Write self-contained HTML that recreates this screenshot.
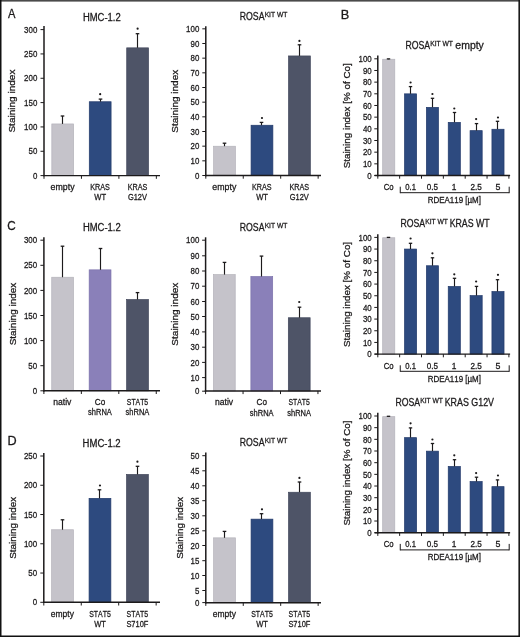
<!DOCTYPE html>
<html><head><meta charset="utf-8"><style>
html,body{margin:0;padding:0;background:#fff;}
svg{display:block;will-change:transform;}
text{font-family:"Liberation Sans",sans-serif;font-kerning:none;stroke:#1c1a1b;stroke-width:0.28px;}
</style></head><body>
<svg width="520" height="637" viewBox="0 0 520 637">
<rect x="0.00" y="0.00" width="520.00" height="637.00" fill="#ffffff"/>
<text x="7.98" y="18.30" font-size="12.0" text-anchor="start" textLength="7.44" lengthAdjust="spacingAndGlyphs" fill="#1c1a1b">A</text>
<text x="340.65" y="18.60" font-size="12.0" text-anchor="start" textLength="8.52" lengthAdjust="spacingAndGlyphs" fill="#1c1a1b">B</text>
<text x="7.21" y="229.80" font-size="12.0" text-anchor="start" textLength="8.44" lengthAdjust="spacingAndGlyphs" fill="#1c1a1b">C</text>
<text x="7.46" y="445.00" font-size="12.0" text-anchor="start" textLength="9.14" lengthAdjust="spacingAndGlyphs" fill="#1c1a1b">D</text>
<text x="82.93" y="20.70" font-size="10.0" text-anchor="start" textLength="37.75" lengthAdjust="spacingAndGlyphs" fill="#1c1a1b">HMC-1.2</text>
<text x="0" y="0" font-size="9.8" textLength="62.96" lengthAdjust="spacingAndGlyphs" fill="#1c1a1b" transform="translate(15.47,132.56) rotate(-90)">Staining index</text>
<line x1="44.00" y1="26.00" x2="44.00" y2="176.30" stroke="#1c1a1b" stroke-width="1.5"/>
<line x1="40.50" y1="175.60" x2="44.00" y2="175.60" stroke="#1c1a1b" stroke-width="1.0"/>
<text x="37.30" y="178.76" font-size="9.2" text-anchor="end" textLength="4.40" lengthAdjust="spacingAndGlyphs" fill="#1c1a1b">0</text>
<line x1="40.50" y1="151.27" x2="44.00" y2="151.27" stroke="#1c1a1b" stroke-width="1.0"/>
<text x="37.30" y="154.43" font-size="9.2" text-anchor="end" textLength="8.80" lengthAdjust="spacingAndGlyphs" fill="#1c1a1b">50</text>
<line x1="40.50" y1="126.93" x2="44.00" y2="126.93" stroke="#1c1a1b" stroke-width="1.0"/>
<text x="37.30" y="130.10" font-size="9.2" text-anchor="end" textLength="13.20" lengthAdjust="spacingAndGlyphs" fill="#1c1a1b">100</text>
<line x1="40.50" y1="102.60" x2="44.00" y2="102.60" stroke="#1c1a1b" stroke-width="1.0"/>
<text x="37.30" y="105.76" font-size="9.2" text-anchor="end" textLength="13.20" lengthAdjust="spacingAndGlyphs" fill="#1c1a1b">150</text>
<line x1="40.50" y1="78.27" x2="44.00" y2="78.27" stroke="#1c1a1b" stroke-width="1.0"/>
<text x="37.30" y="81.43" font-size="9.2" text-anchor="end" textLength="13.20" lengthAdjust="spacingAndGlyphs" fill="#1c1a1b">200</text>
<line x1="40.50" y1="53.93" x2="44.00" y2="53.93" stroke="#1c1a1b" stroke-width="1.0"/>
<text x="37.30" y="57.10" font-size="9.2" text-anchor="end" textLength="13.20" lengthAdjust="spacingAndGlyphs" fill="#1c1a1b">250</text>
<line x1="40.50" y1="29.60" x2="44.00" y2="29.60" stroke="#1c1a1b" stroke-width="1.0"/>
<text x="37.30" y="32.76" font-size="9.2" text-anchor="end" textLength="13.20" lengthAdjust="spacingAndGlyphs" fill="#1c1a1b">300</text>
<rect x="51.83" y="123.95" width="21.80" height="51.65" fill="#c5c3ca" stroke="#b4b2ba" stroke-width="0.7"/>
<line x1="62.50" y1="116.00" x2="62.50" y2="123.90" stroke="#1c1a1b" stroke-width="1.15"/>
<line x1="60.70" y1="116.00" x2="64.30" y2="116.00" stroke="#1c1a1b" stroke-width="1.3"/>
<text x="50.55" y="189.80" font-size="9.0" text-anchor="start" textLength="23.99" lengthAdjust="spacingAndGlyphs" fill="#1c1a1b">empty</text>
<rect x="89.28" y="101.75" width="21.80" height="73.85" fill="#2d4a7f" stroke="#22396a" stroke-width="0.7"/>
<line x1="100.50" y1="99.10" x2="100.50" y2="101.70" stroke="#1c1a1b" stroke-width="1.15"/>
<line x1="98.70" y1="99.10" x2="102.30" y2="99.10" stroke="#1c1a1b" stroke-width="1.3"/>
<circle cx="100.18" cy="94.20" r="1.1" fill="#1c1a1b"/>
<text x="90.23" y="189.80" font-size="9.0" text-anchor="start" textLength="19.62" lengthAdjust="spacingAndGlyphs" fill="#1c1a1b">KRAS</text>
<text x="94.34" y="200.20" font-size="9.0" text-anchor="start" textLength="11.81" lengthAdjust="spacingAndGlyphs" fill="#1c1a1b">WT</text>
<rect x="126.72" y="47.85" width="21.80" height="127.75" fill="#4e5467" stroke="#40465a" stroke-width="0.7"/>
<line x1="137.50" y1="33.70" x2="137.50" y2="47.80" stroke="#1c1a1b" stroke-width="1.15"/>
<line x1="135.70" y1="33.70" x2="139.30" y2="33.70" stroke="#1c1a1b" stroke-width="1.3"/>
<circle cx="137.62" cy="28.70" r="1.1" fill="#1c1a1b"/>
<text x="127.68" y="189.80" font-size="9.0" text-anchor="start" textLength="19.62" lengthAdjust="spacingAndGlyphs" fill="#1c1a1b">KRAS</text>
<text x="127.90" y="200.20" font-size="9.0" text-anchor="start" textLength="19.11" lengthAdjust="spacingAndGlyphs" fill="#1c1a1b">G12V</text>
<line x1="43.20" y1="175.60" x2="160.00" y2="175.60" stroke="#1c1a1b" stroke-width="1.45"/>
<line x1="44.00" y1="175.60" x2="44.00" y2="178.80" stroke="#1c1a1b" stroke-width="1.0"/>
<line x1="81.45" y1="175.60" x2="81.45" y2="178.80" stroke="#1c1a1b" stroke-width="1.0"/>
<line x1="118.90" y1="175.60" x2="118.90" y2="178.80" stroke="#1c1a1b" stroke-width="1.0"/>
<line x1="156.35" y1="175.60" x2="156.35" y2="178.80" stroke="#1c1a1b" stroke-width="1.0"/>
<text x="239.78" y="19.90" font-size="10.0" text-anchor="start" textLength="24.73" lengthAdjust="spacingAndGlyphs" fill="#1c1a1b">ROSA</text>
<text x="264.65" y="16.70" font-size="7.4" text-anchor="start" textLength="22.70" lengthAdjust="spacingAndGlyphs" fill="#1c1a1b">KIT WT</text>
<text x="0" y="0" font-size="9.8" textLength="62.86" lengthAdjust="spacingAndGlyphs" fill="#1c1a1b" transform="translate(177.77,132.65) rotate(-90)">Staining index</text>
<line x1="205.80" y1="26.20" x2="205.80" y2="176.20" stroke="#1c1a1b" stroke-width="1.5"/>
<line x1="202.30" y1="175.50" x2="205.80" y2="175.50" stroke="#1c1a1b" stroke-width="1.0"/>
<text x="199.30" y="178.66" font-size="9.2" text-anchor="end" textLength="4.40" lengthAdjust="spacingAndGlyphs" fill="#1c1a1b">0</text>
<line x1="202.30" y1="160.83" x2="205.80" y2="160.83" stroke="#1c1a1b" stroke-width="1.0"/>
<text x="199.30" y="164.00" font-size="9.2" text-anchor="end" textLength="8.80" lengthAdjust="spacingAndGlyphs" fill="#1c1a1b">10</text>
<line x1="202.30" y1="146.17" x2="205.80" y2="146.17" stroke="#1c1a1b" stroke-width="1.0"/>
<text x="199.30" y="149.33" font-size="9.2" text-anchor="end" textLength="8.80" lengthAdjust="spacingAndGlyphs" fill="#1c1a1b">20</text>
<line x1="202.30" y1="131.50" x2="205.80" y2="131.50" stroke="#1c1a1b" stroke-width="1.0"/>
<text x="199.30" y="134.66" font-size="9.2" text-anchor="end" textLength="8.80" lengthAdjust="spacingAndGlyphs" fill="#1c1a1b">30</text>
<line x1="202.30" y1="116.83" x2="205.80" y2="116.83" stroke="#1c1a1b" stroke-width="1.0"/>
<text x="199.30" y="120.00" font-size="9.2" text-anchor="end" textLength="8.80" lengthAdjust="spacingAndGlyphs" fill="#1c1a1b">40</text>
<line x1="202.30" y1="102.17" x2="205.80" y2="102.17" stroke="#1c1a1b" stroke-width="1.0"/>
<text x="199.30" y="105.33" font-size="9.2" text-anchor="end" textLength="8.80" lengthAdjust="spacingAndGlyphs" fill="#1c1a1b">50</text>
<line x1="202.30" y1="87.50" x2="205.80" y2="87.50" stroke="#1c1a1b" stroke-width="1.0"/>
<text x="199.30" y="90.66" font-size="9.2" text-anchor="end" textLength="8.80" lengthAdjust="spacingAndGlyphs" fill="#1c1a1b">60</text>
<line x1="202.30" y1="72.83" x2="205.80" y2="72.83" stroke="#1c1a1b" stroke-width="1.0"/>
<text x="199.30" y="76.00" font-size="9.2" text-anchor="end" textLength="8.80" lengthAdjust="spacingAndGlyphs" fill="#1c1a1b">70</text>
<line x1="202.30" y1="58.16" x2="205.80" y2="58.16" stroke="#1c1a1b" stroke-width="1.0"/>
<text x="199.30" y="61.33" font-size="9.2" text-anchor="end" textLength="8.80" lengthAdjust="spacingAndGlyphs" fill="#1c1a1b">80</text>
<line x1="202.30" y1="43.50" x2="205.80" y2="43.50" stroke="#1c1a1b" stroke-width="1.0"/>
<text x="199.30" y="46.66" font-size="9.2" text-anchor="end" textLength="8.80" lengthAdjust="spacingAndGlyphs" fill="#1c1a1b">90</text>
<line x1="202.30" y1="28.83" x2="205.80" y2="28.83" stroke="#1c1a1b" stroke-width="1.0"/>
<text x="199.30" y="31.99" font-size="9.2" text-anchor="end" textLength="13.20" lengthAdjust="spacingAndGlyphs" fill="#1c1a1b">100</text>
<rect x="213.62" y="146.25" width="21.80" height="29.25" fill="#c5c3ca" stroke="#b4b2ba" stroke-width="0.7"/>
<line x1="224.50" y1="143.20" x2="224.50" y2="146.20" stroke="#1c1a1b" stroke-width="1.15"/>
<line x1="222.70" y1="143.20" x2="226.30" y2="143.20" stroke="#1c1a1b" stroke-width="1.3"/>
<text x="212.35" y="189.70" font-size="9.0" text-anchor="start" textLength="23.99" lengthAdjust="spacingAndGlyphs" fill="#1c1a1b">empty</text>
<rect x="251.08" y="125.25" width="21.80" height="50.25" fill="#2d4a7f" stroke="#22396a" stroke-width="0.7"/>
<line x1="261.50" y1="122.40" x2="261.50" y2="125.20" stroke="#1c1a1b" stroke-width="1.15"/>
<line x1="259.70" y1="122.40" x2="263.30" y2="122.40" stroke="#1c1a1b" stroke-width="1.3"/>
<circle cx="261.98" cy="118.00" r="1.1" fill="#1c1a1b"/>
<text x="252.03" y="189.70" font-size="9.0" text-anchor="start" textLength="19.62" lengthAdjust="spacingAndGlyphs" fill="#1c1a1b">KRAS</text>
<text x="256.14" y="200.10" font-size="9.0" text-anchor="start" textLength="11.81" lengthAdjust="spacingAndGlyphs" fill="#1c1a1b">WT</text>
<rect x="288.53" y="55.95" width="21.80" height="119.55" fill="#4e5467" stroke="#40465a" stroke-width="0.7"/>
<line x1="299.50" y1="44.80" x2="299.50" y2="55.90" stroke="#1c1a1b" stroke-width="1.15"/>
<line x1="297.70" y1="44.80" x2="301.30" y2="44.80" stroke="#1c1a1b" stroke-width="1.3"/>
<circle cx="299.43" cy="40.90" r="1.1" fill="#1c1a1b"/>
<text x="289.48" y="189.70" font-size="9.0" text-anchor="start" textLength="19.62" lengthAdjust="spacingAndGlyphs" fill="#1c1a1b">KRAS</text>
<text x="289.70" y="200.10" font-size="9.0" text-anchor="start" textLength="19.11" lengthAdjust="spacingAndGlyphs" fill="#1c1a1b">G12V</text>
<line x1="205.00" y1="175.50" x2="321.00" y2="175.50" stroke="#1c1a1b" stroke-width="1.45"/>
<line x1="205.80" y1="175.50" x2="205.80" y2="178.70" stroke="#1c1a1b" stroke-width="1.0"/>
<line x1="243.25" y1="175.50" x2="243.25" y2="178.70" stroke="#1c1a1b" stroke-width="1.0"/>
<line x1="280.70" y1="175.50" x2="280.70" y2="178.70" stroke="#1c1a1b" stroke-width="1.0"/>
<line x1="318.15" y1="175.50" x2="318.15" y2="178.70" stroke="#1c1a1b" stroke-width="1.0"/>
<line x1="377.80" y1="55.60" x2="377.80" y2="176.20" stroke="#1c1a1b" stroke-width="1.5"/>
<line x1="374.30" y1="175.50" x2="377.80" y2="175.50" stroke="#1c1a1b" stroke-width="1.0"/>
<text x="371.70" y="178.66" font-size="9.2" text-anchor="end" textLength="4.40" lengthAdjust="spacingAndGlyphs" fill="#1c1a1b">0</text>
<line x1="374.30" y1="163.83" x2="377.80" y2="163.83" stroke="#1c1a1b" stroke-width="1.0"/>
<text x="371.70" y="166.99" font-size="9.2" text-anchor="end" textLength="8.80" lengthAdjust="spacingAndGlyphs" fill="#1c1a1b">10</text>
<line x1="374.30" y1="152.16" x2="377.80" y2="152.16" stroke="#1c1a1b" stroke-width="1.0"/>
<text x="371.70" y="155.32" font-size="9.2" text-anchor="end" textLength="8.80" lengthAdjust="spacingAndGlyphs" fill="#1c1a1b">20</text>
<line x1="374.30" y1="140.49" x2="377.80" y2="140.49" stroke="#1c1a1b" stroke-width="1.0"/>
<text x="371.70" y="143.65" font-size="9.2" text-anchor="end" textLength="8.80" lengthAdjust="spacingAndGlyphs" fill="#1c1a1b">30</text>
<line x1="374.30" y1="128.82" x2="377.80" y2="128.82" stroke="#1c1a1b" stroke-width="1.0"/>
<text x="371.70" y="131.98" font-size="9.2" text-anchor="end" textLength="8.80" lengthAdjust="spacingAndGlyphs" fill="#1c1a1b">40</text>
<line x1="374.30" y1="117.15" x2="377.80" y2="117.15" stroke="#1c1a1b" stroke-width="1.0"/>
<text x="371.70" y="120.31" font-size="9.2" text-anchor="end" textLength="8.80" lengthAdjust="spacingAndGlyphs" fill="#1c1a1b">50</text>
<line x1="374.30" y1="105.48" x2="377.80" y2="105.48" stroke="#1c1a1b" stroke-width="1.0"/>
<text x="371.70" y="108.64" font-size="9.2" text-anchor="end" textLength="8.80" lengthAdjust="spacingAndGlyphs" fill="#1c1a1b">60</text>
<line x1="374.30" y1="93.81" x2="377.80" y2="93.81" stroke="#1c1a1b" stroke-width="1.0"/>
<text x="371.70" y="96.97" font-size="9.2" text-anchor="end" textLength="8.80" lengthAdjust="spacingAndGlyphs" fill="#1c1a1b">70</text>
<line x1="374.30" y1="82.14" x2="377.80" y2="82.14" stroke="#1c1a1b" stroke-width="1.0"/>
<text x="371.70" y="85.30" font-size="9.2" text-anchor="end" textLength="8.80" lengthAdjust="spacingAndGlyphs" fill="#1c1a1b">80</text>
<line x1="374.30" y1="70.47" x2="377.80" y2="70.47" stroke="#1c1a1b" stroke-width="1.0"/>
<text x="371.70" y="73.63" font-size="9.2" text-anchor="end" textLength="8.80" lengthAdjust="spacingAndGlyphs" fill="#1c1a1b">90</text>
<line x1="374.30" y1="58.80" x2="377.80" y2="58.80" stroke="#1c1a1b" stroke-width="1.0"/>
<text x="371.70" y="61.96" font-size="9.2" text-anchor="end" textLength="13.20" lengthAdjust="spacingAndGlyphs" fill="#1c1a1b">100</text>
<rect x="382.68" y="59.25" width="12.10" height="116.25" fill="#c5c3ca" stroke="#b4b2ba" stroke-width="0.7"/>
<line x1="388.50" y1="58.90" x2="388.50" y2="59.20" stroke="#1c1a1b" stroke-width="1.15"/>
<line x1="386.80" y1="58.90" x2="390.20" y2="58.90" stroke="#1c1a1b" stroke-width="1.3"/>
<rect x="404.53" y="93.85" width="12.10" height="81.65" fill="#2d4a7f" stroke="#22396a" stroke-width="0.7"/>
<line x1="410.50" y1="86.60" x2="410.50" y2="93.80" stroke="#1c1a1b" stroke-width="1.15"/>
<line x1="408.80" y1="86.60" x2="412.20" y2="86.60" stroke="#1c1a1b" stroke-width="1.3"/>
<circle cx="410.58" cy="82.50" r="1.1" fill="#1c1a1b"/>
<rect x="426.38" y="107.35" width="12.10" height="68.15" fill="#2d4a7f" stroke="#22396a" stroke-width="0.7"/>
<line x1="432.50" y1="98.30" x2="432.50" y2="107.30" stroke="#1c1a1b" stroke-width="1.15"/>
<line x1="430.80" y1="98.30" x2="434.20" y2="98.30" stroke="#1c1a1b" stroke-width="1.3"/>
<circle cx="432.43" cy="94.00" r="1.1" fill="#1c1a1b"/>
<rect x="448.23" y="122.35" width="12.10" height="53.15" fill="#2d4a7f" stroke="#22396a" stroke-width="0.7"/>
<line x1="454.50" y1="112.50" x2="454.50" y2="122.30" stroke="#1c1a1b" stroke-width="1.15"/>
<line x1="452.80" y1="112.50" x2="456.20" y2="112.50" stroke="#1c1a1b" stroke-width="1.3"/>
<circle cx="454.28" cy="108.50" r="1.1" fill="#1c1a1b"/>
<rect x="470.08" y="130.65" width="12.10" height="44.85" fill="#2d4a7f" stroke="#22396a" stroke-width="0.7"/>
<line x1="476.50" y1="123.60" x2="476.50" y2="130.60" stroke="#1c1a1b" stroke-width="1.15"/>
<line x1="474.80" y1="123.60" x2="478.20" y2="123.60" stroke="#1c1a1b" stroke-width="1.3"/>
<circle cx="476.12" cy="119.10" r="1.1" fill="#1c1a1b"/>
<rect x="491.93" y="129.25" width="12.10" height="46.25" fill="#2d4a7f" stroke="#22396a" stroke-width="0.7"/>
<line x1="497.50" y1="121.30" x2="497.50" y2="129.20" stroke="#1c1a1b" stroke-width="1.15"/>
<line x1="495.80" y1="121.30" x2="499.20" y2="121.30" stroke="#1c1a1b" stroke-width="1.3"/>
<circle cx="497.98" cy="117.50" r="1.1" fill="#1c1a1b"/>
<line x1="374.60" y1="175.50" x2="510.10" y2="175.50" stroke="#1c1a1b" stroke-width="1.45"/>
<line x1="377.80" y1="175.50" x2="377.80" y2="178.70" stroke="#1c1a1b" stroke-width="1.0"/>
<line x1="399.65" y1="175.50" x2="399.65" y2="178.70" stroke="#1c1a1b" stroke-width="1.0"/>
<line x1="421.50" y1="175.50" x2="421.50" y2="178.70" stroke="#1c1a1b" stroke-width="1.0"/>
<line x1="443.35" y1="175.50" x2="443.35" y2="178.70" stroke="#1c1a1b" stroke-width="1.0"/>
<line x1="465.20" y1="175.50" x2="465.20" y2="178.70" stroke="#1c1a1b" stroke-width="1.0"/>
<line x1="487.05" y1="175.50" x2="487.05" y2="178.70" stroke="#1c1a1b" stroke-width="1.0"/>
<line x1="508.90" y1="175.50" x2="508.90" y2="178.70" stroke="#1c1a1b" stroke-width="1.0"/>
<text x="383.73" y="190.10" font-size="8.8" text-anchor="start" textLength="9.92" lengthAdjust="spacingAndGlyphs" fill="#1c1a1b">Co</text>
<text x="405.28" y="190.10" font-size="8.8" text-anchor="start" textLength="10.67" lengthAdjust="spacingAndGlyphs" fill="#1c1a1b">0.1</text>
<text x="426.81" y="190.10" font-size="8.8" text-anchor="start" textLength="11.26" lengthAdjust="spacingAndGlyphs" fill="#1c1a1b">0.5</text>
<text x="451.84" y="190.10" font-size="8.8" text-anchor="start" textLength="4.64" lengthAdjust="spacingAndGlyphs" fill="#1c1a1b">1</text>
<text x="470.41" y="190.10" font-size="8.8" text-anchor="start" textLength="11.35" lengthAdjust="spacingAndGlyphs" fill="#1c1a1b">2.5</text>
<text x="495.52" y="190.10" font-size="8.8" text-anchor="start" textLength="4.93" lengthAdjust="spacingAndGlyphs" fill="#1c1a1b">5</text>
<line x1="400.25" y1="186.70" x2="400.25" y2="193.20" stroke="#1c1a1b" stroke-width="1.0"/>
<line x1="509.20" y1="186.70" x2="509.20" y2="193.20" stroke="#1c1a1b" stroke-width="1.0"/>
<line x1="400.25" y1="192.70" x2="509.20" y2="192.70" stroke="#1c1a1b" stroke-width="1.0"/>
<text x="427.75" y="203.10" font-size="8.8" text-anchor="start" textLength="53.22" lengthAdjust="spacingAndGlyphs" fill="#1c1a1b">RDEA119 [µM]</text>
<text x="0" y="0" font-size="9.8" textLength="105.05" lengthAdjust="spacingAndGlyphs" fill="#1c1a1b" transform="translate(349.57,168.35) rotate(-90)">Staining index [% of Co]</text>
<text x="405.38" y="49.40" font-size="10.0" text-anchor="start" textLength="24.73" lengthAdjust="spacingAndGlyphs" fill="#1c1a1b">ROSA</text>
<text x="430.25" y="46.20" font-size="7.4" text-anchor="start" textLength="22.70" lengthAdjust="spacingAndGlyphs" fill="#1c1a1b">KIT WT</text>
<text x="455.36" y="49.40" font-size="10.0" text-anchor="start" textLength="28.46" lengthAdjust="spacingAndGlyphs" fill="#1c1a1b">empty</text>
<line x1="377.80" y1="234.20" x2="377.80" y2="354.80" stroke="#1c1a1b" stroke-width="1.5"/>
<line x1="374.30" y1="354.10" x2="377.80" y2="354.10" stroke="#1c1a1b" stroke-width="1.0"/>
<text x="371.70" y="357.26" font-size="9.2" text-anchor="end" textLength="4.40" lengthAdjust="spacingAndGlyphs" fill="#1c1a1b">0</text>
<line x1="374.30" y1="342.43" x2="377.80" y2="342.43" stroke="#1c1a1b" stroke-width="1.0"/>
<text x="371.70" y="345.59" font-size="9.2" text-anchor="end" textLength="8.80" lengthAdjust="spacingAndGlyphs" fill="#1c1a1b">10</text>
<line x1="374.30" y1="330.76" x2="377.80" y2="330.76" stroke="#1c1a1b" stroke-width="1.0"/>
<text x="371.70" y="333.92" font-size="9.2" text-anchor="end" textLength="8.80" lengthAdjust="spacingAndGlyphs" fill="#1c1a1b">20</text>
<line x1="374.30" y1="319.09" x2="377.80" y2="319.09" stroke="#1c1a1b" stroke-width="1.0"/>
<text x="371.70" y="322.25" font-size="9.2" text-anchor="end" textLength="8.80" lengthAdjust="spacingAndGlyphs" fill="#1c1a1b">30</text>
<line x1="374.30" y1="307.42" x2="377.80" y2="307.42" stroke="#1c1a1b" stroke-width="1.0"/>
<text x="371.70" y="310.58" font-size="9.2" text-anchor="end" textLength="8.80" lengthAdjust="spacingAndGlyphs" fill="#1c1a1b">40</text>
<line x1="374.30" y1="295.75" x2="377.80" y2="295.75" stroke="#1c1a1b" stroke-width="1.0"/>
<text x="371.70" y="298.91" font-size="9.2" text-anchor="end" textLength="8.80" lengthAdjust="spacingAndGlyphs" fill="#1c1a1b">50</text>
<line x1="374.30" y1="284.08" x2="377.80" y2="284.08" stroke="#1c1a1b" stroke-width="1.0"/>
<text x="371.70" y="287.24" font-size="9.2" text-anchor="end" textLength="8.80" lengthAdjust="spacingAndGlyphs" fill="#1c1a1b">60</text>
<line x1="374.30" y1="272.41" x2="377.80" y2="272.41" stroke="#1c1a1b" stroke-width="1.0"/>
<text x="371.70" y="275.57" font-size="9.2" text-anchor="end" textLength="8.80" lengthAdjust="spacingAndGlyphs" fill="#1c1a1b">70</text>
<line x1="374.30" y1="260.74" x2="377.80" y2="260.74" stroke="#1c1a1b" stroke-width="1.0"/>
<text x="371.70" y="263.90" font-size="9.2" text-anchor="end" textLength="8.80" lengthAdjust="spacingAndGlyphs" fill="#1c1a1b">80</text>
<line x1="374.30" y1="249.07" x2="377.80" y2="249.07" stroke="#1c1a1b" stroke-width="1.0"/>
<text x="371.70" y="252.23" font-size="9.2" text-anchor="end" textLength="8.80" lengthAdjust="spacingAndGlyphs" fill="#1c1a1b">90</text>
<line x1="374.30" y1="237.40" x2="377.80" y2="237.40" stroke="#1c1a1b" stroke-width="1.0"/>
<text x="371.70" y="240.56" font-size="9.2" text-anchor="end" textLength="13.20" lengthAdjust="spacingAndGlyphs" fill="#1c1a1b">100</text>
<rect x="382.68" y="237.75" width="12.10" height="116.35" fill="#c5c3ca" stroke="#b4b2ba" stroke-width="0.7"/>
<line x1="388.50" y1="237.40" x2="388.50" y2="237.70" stroke="#1c1a1b" stroke-width="1.15"/>
<line x1="386.80" y1="237.40" x2="390.20" y2="237.40" stroke="#1c1a1b" stroke-width="1.3"/>
<rect x="404.53" y="249.05" width="12.10" height="105.05" fill="#2d4a7f" stroke="#22396a" stroke-width="0.7"/>
<line x1="410.50" y1="243.30" x2="410.50" y2="249.00" stroke="#1c1a1b" stroke-width="1.15"/>
<line x1="408.80" y1="243.30" x2="412.20" y2="243.30" stroke="#1c1a1b" stroke-width="1.3"/>
<circle cx="410.58" cy="238.50" r="1.1" fill="#1c1a1b"/>
<rect x="426.38" y="265.75" width="12.10" height="88.35" fill="#2d4a7f" stroke="#22396a" stroke-width="0.7"/>
<line x1="432.50" y1="257.80" x2="432.50" y2="265.70" stroke="#1c1a1b" stroke-width="1.15"/>
<line x1="430.80" y1="257.80" x2="434.20" y2="257.80" stroke="#1c1a1b" stroke-width="1.3"/>
<circle cx="432.43" cy="253.30" r="1.1" fill="#1c1a1b"/>
<rect x="448.23" y="286.45" width="12.10" height="67.65" fill="#2d4a7f" stroke="#22396a" stroke-width="0.7"/>
<line x1="454.50" y1="278.30" x2="454.50" y2="286.40" stroke="#1c1a1b" stroke-width="1.15"/>
<line x1="452.80" y1="278.30" x2="456.20" y2="278.30" stroke="#1c1a1b" stroke-width="1.3"/>
<circle cx="454.28" cy="274.30" r="1.1" fill="#1c1a1b"/>
<rect x="470.08" y="295.65" width="12.10" height="58.45" fill="#2d4a7f" stroke="#22396a" stroke-width="0.7"/>
<line x1="476.50" y1="286.40" x2="476.50" y2="295.60" stroke="#1c1a1b" stroke-width="1.15"/>
<line x1="474.80" y1="286.40" x2="478.20" y2="286.40" stroke="#1c1a1b" stroke-width="1.3"/>
<circle cx="476.12" cy="281.50" r="1.1" fill="#1c1a1b"/>
<rect x="491.93" y="291.55" width="12.10" height="62.55" fill="#2d4a7f" stroke="#22396a" stroke-width="0.7"/>
<line x1="497.50" y1="279.70" x2="497.50" y2="291.50" stroke="#1c1a1b" stroke-width="1.15"/>
<line x1="495.80" y1="279.70" x2="499.20" y2="279.70" stroke="#1c1a1b" stroke-width="1.3"/>
<circle cx="497.98" cy="274.80" r="1.1" fill="#1c1a1b"/>
<line x1="374.60" y1="354.10" x2="510.10" y2="354.10" stroke="#1c1a1b" stroke-width="1.45"/>
<line x1="377.80" y1="354.10" x2="377.80" y2="357.30" stroke="#1c1a1b" stroke-width="1.0"/>
<line x1="399.65" y1="354.10" x2="399.65" y2="357.30" stroke="#1c1a1b" stroke-width="1.0"/>
<line x1="421.50" y1="354.10" x2="421.50" y2="357.30" stroke="#1c1a1b" stroke-width="1.0"/>
<line x1="443.35" y1="354.10" x2="443.35" y2="357.30" stroke="#1c1a1b" stroke-width="1.0"/>
<line x1="465.20" y1="354.10" x2="465.20" y2="357.30" stroke="#1c1a1b" stroke-width="1.0"/>
<line x1="487.05" y1="354.10" x2="487.05" y2="357.30" stroke="#1c1a1b" stroke-width="1.0"/>
<line x1="508.90" y1="354.10" x2="508.90" y2="357.30" stroke="#1c1a1b" stroke-width="1.0"/>
<text x="383.73" y="368.70" font-size="8.8" text-anchor="start" textLength="9.92" lengthAdjust="spacingAndGlyphs" fill="#1c1a1b">Co</text>
<text x="405.28" y="368.70" font-size="8.8" text-anchor="start" textLength="10.67" lengthAdjust="spacingAndGlyphs" fill="#1c1a1b">0.1</text>
<text x="426.81" y="368.70" font-size="8.8" text-anchor="start" textLength="11.26" lengthAdjust="spacingAndGlyphs" fill="#1c1a1b">0.5</text>
<text x="451.84" y="368.70" font-size="8.8" text-anchor="start" textLength="4.64" lengthAdjust="spacingAndGlyphs" fill="#1c1a1b">1</text>
<text x="470.41" y="368.70" font-size="8.8" text-anchor="start" textLength="11.35" lengthAdjust="spacingAndGlyphs" fill="#1c1a1b">2.5</text>
<text x="495.52" y="368.70" font-size="8.8" text-anchor="start" textLength="4.93" lengthAdjust="spacingAndGlyphs" fill="#1c1a1b">5</text>
<line x1="400.25" y1="365.30" x2="400.25" y2="371.80" stroke="#1c1a1b" stroke-width="1.0"/>
<line x1="509.20" y1="365.30" x2="509.20" y2="371.80" stroke="#1c1a1b" stroke-width="1.0"/>
<line x1="400.25" y1="371.30" x2="509.20" y2="371.30" stroke="#1c1a1b" stroke-width="1.0"/>
<text x="427.75" y="381.70" font-size="8.8" text-anchor="start" textLength="53.22" lengthAdjust="spacingAndGlyphs" fill="#1c1a1b">RDEA119 [µM]</text>
<text x="0" y="0" font-size="9.8" textLength="105.05" lengthAdjust="spacingAndGlyphs" fill="#1c1a1b" transform="translate(349.57,346.95) rotate(-90)">Staining index [% of Co]</text>
<text x="400.38" y="227.40" font-size="10.0" text-anchor="start" textLength="24.73" lengthAdjust="spacingAndGlyphs" fill="#1c1a1b">ROSA</text>
<text x="425.25" y="224.20" font-size="7.4" text-anchor="start" textLength="22.70" lengthAdjust="spacingAndGlyphs" fill="#1c1a1b">KIT WT</text>
<text x="449.68" y="227.40" font-size="10.0" text-anchor="start" textLength="40.02" lengthAdjust="spacingAndGlyphs" fill="#1c1a1b">KRAS WT</text>
<line x1="377.80" y1="412.80" x2="377.80" y2="533.40" stroke="#1c1a1b" stroke-width="1.5"/>
<line x1="374.30" y1="532.70" x2="377.80" y2="532.70" stroke="#1c1a1b" stroke-width="1.0"/>
<text x="371.70" y="535.86" font-size="9.2" text-anchor="end" textLength="4.40" lengthAdjust="spacingAndGlyphs" fill="#1c1a1b">0</text>
<line x1="374.30" y1="521.03" x2="377.80" y2="521.03" stroke="#1c1a1b" stroke-width="1.0"/>
<text x="371.70" y="524.19" font-size="9.2" text-anchor="end" textLength="8.80" lengthAdjust="spacingAndGlyphs" fill="#1c1a1b">10</text>
<line x1="374.30" y1="509.36" x2="377.80" y2="509.36" stroke="#1c1a1b" stroke-width="1.0"/>
<text x="371.70" y="512.52" font-size="9.2" text-anchor="end" textLength="8.80" lengthAdjust="spacingAndGlyphs" fill="#1c1a1b">20</text>
<line x1="374.30" y1="497.69" x2="377.80" y2="497.69" stroke="#1c1a1b" stroke-width="1.0"/>
<text x="371.70" y="500.85" font-size="9.2" text-anchor="end" textLength="8.80" lengthAdjust="spacingAndGlyphs" fill="#1c1a1b">30</text>
<line x1="374.30" y1="486.02" x2="377.80" y2="486.02" stroke="#1c1a1b" stroke-width="1.0"/>
<text x="371.70" y="489.18" font-size="9.2" text-anchor="end" textLength="8.80" lengthAdjust="spacingAndGlyphs" fill="#1c1a1b">40</text>
<line x1="374.30" y1="474.35" x2="377.80" y2="474.35" stroke="#1c1a1b" stroke-width="1.0"/>
<text x="371.70" y="477.51" font-size="9.2" text-anchor="end" textLength="8.80" lengthAdjust="spacingAndGlyphs" fill="#1c1a1b">50</text>
<line x1="374.30" y1="462.68" x2="377.80" y2="462.68" stroke="#1c1a1b" stroke-width="1.0"/>
<text x="371.70" y="465.84" font-size="9.2" text-anchor="end" textLength="8.80" lengthAdjust="spacingAndGlyphs" fill="#1c1a1b">60</text>
<line x1="374.30" y1="451.01" x2="377.80" y2="451.01" stroke="#1c1a1b" stroke-width="1.0"/>
<text x="371.70" y="454.17" font-size="9.2" text-anchor="end" textLength="8.80" lengthAdjust="spacingAndGlyphs" fill="#1c1a1b">70</text>
<line x1="374.30" y1="439.34" x2="377.80" y2="439.34" stroke="#1c1a1b" stroke-width="1.0"/>
<text x="371.70" y="442.50" font-size="9.2" text-anchor="end" textLength="8.80" lengthAdjust="spacingAndGlyphs" fill="#1c1a1b">80</text>
<line x1="374.30" y1="427.67" x2="377.80" y2="427.67" stroke="#1c1a1b" stroke-width="1.0"/>
<text x="371.70" y="430.83" font-size="9.2" text-anchor="end" textLength="8.80" lengthAdjust="spacingAndGlyphs" fill="#1c1a1b">90</text>
<line x1="374.30" y1="416.00" x2="377.80" y2="416.00" stroke="#1c1a1b" stroke-width="1.0"/>
<text x="371.70" y="419.16" font-size="9.2" text-anchor="end" textLength="13.20" lengthAdjust="spacingAndGlyphs" fill="#1c1a1b">100</text>
<rect x="382.68" y="416.65" width="12.10" height="116.05" fill="#c5c3ca" stroke="#b4b2ba" stroke-width="0.7"/>
<line x1="388.50" y1="416.30" x2="388.50" y2="416.60" stroke="#1c1a1b" stroke-width="1.15"/>
<line x1="386.80" y1="416.30" x2="390.20" y2="416.30" stroke="#1c1a1b" stroke-width="1.3"/>
<rect x="404.53" y="437.65" width="12.10" height="95.05" fill="#2d4a7f" stroke="#22396a" stroke-width="0.7"/>
<line x1="410.50" y1="427.90" x2="410.50" y2="437.60" stroke="#1c1a1b" stroke-width="1.15"/>
<line x1="408.80" y1="427.90" x2="412.20" y2="427.90" stroke="#1c1a1b" stroke-width="1.3"/>
<circle cx="410.58" cy="423.30" r="1.1" fill="#1c1a1b"/>
<rect x="426.38" y="451.15" width="12.10" height="81.55" fill="#2d4a7f" stroke="#22396a" stroke-width="0.7"/>
<line x1="432.50" y1="443.50" x2="432.50" y2="451.10" stroke="#1c1a1b" stroke-width="1.15"/>
<line x1="430.80" y1="443.50" x2="434.20" y2="443.50" stroke="#1c1a1b" stroke-width="1.3"/>
<circle cx="432.43" cy="439.50" r="1.1" fill="#1c1a1b"/>
<rect x="448.23" y="466.45" width="12.10" height="66.25" fill="#2d4a7f" stroke="#22396a" stroke-width="0.7"/>
<line x1="454.50" y1="459.70" x2="454.50" y2="466.40" stroke="#1c1a1b" stroke-width="1.15"/>
<line x1="452.80" y1="459.70" x2="456.20" y2="459.70" stroke="#1c1a1b" stroke-width="1.3"/>
<circle cx="454.28" cy="455.30" r="1.1" fill="#1c1a1b"/>
<rect x="470.08" y="481.55" width="12.10" height="51.15" fill="#2d4a7f" stroke="#22396a" stroke-width="0.7"/>
<line x1="476.50" y1="477.20" x2="476.50" y2="481.50" stroke="#1c1a1b" stroke-width="1.15"/>
<line x1="474.80" y1="477.20" x2="478.20" y2="477.20" stroke="#1c1a1b" stroke-width="1.3"/>
<circle cx="476.12" cy="473.10" r="1.1" fill="#1c1a1b"/>
<rect x="491.93" y="486.65" width="12.10" height="46.05" fill="#2d4a7f" stroke="#22396a" stroke-width="0.7"/>
<line x1="497.50" y1="479.90" x2="497.50" y2="486.60" stroke="#1c1a1b" stroke-width="1.15"/>
<line x1="495.80" y1="479.90" x2="499.20" y2="479.90" stroke="#1c1a1b" stroke-width="1.3"/>
<circle cx="497.98" cy="475.50" r="1.1" fill="#1c1a1b"/>
<line x1="374.60" y1="532.70" x2="510.10" y2="532.70" stroke="#1c1a1b" stroke-width="1.45"/>
<line x1="377.80" y1="532.70" x2="377.80" y2="535.90" stroke="#1c1a1b" stroke-width="1.0"/>
<line x1="399.65" y1="532.70" x2="399.65" y2="535.90" stroke="#1c1a1b" stroke-width="1.0"/>
<line x1="421.50" y1="532.70" x2="421.50" y2="535.90" stroke="#1c1a1b" stroke-width="1.0"/>
<line x1="443.35" y1="532.70" x2="443.35" y2="535.90" stroke="#1c1a1b" stroke-width="1.0"/>
<line x1="465.20" y1="532.70" x2="465.20" y2="535.90" stroke="#1c1a1b" stroke-width="1.0"/>
<line x1="487.05" y1="532.70" x2="487.05" y2="535.90" stroke="#1c1a1b" stroke-width="1.0"/>
<line x1="508.90" y1="532.70" x2="508.90" y2="535.90" stroke="#1c1a1b" stroke-width="1.0"/>
<text x="383.73" y="547.30" font-size="8.8" text-anchor="start" textLength="9.92" lengthAdjust="spacingAndGlyphs" fill="#1c1a1b">Co</text>
<text x="405.28" y="547.30" font-size="8.8" text-anchor="start" textLength="10.67" lengthAdjust="spacingAndGlyphs" fill="#1c1a1b">0.1</text>
<text x="426.81" y="547.30" font-size="8.8" text-anchor="start" textLength="11.26" lengthAdjust="spacingAndGlyphs" fill="#1c1a1b">0.5</text>
<text x="451.84" y="547.30" font-size="8.8" text-anchor="start" textLength="4.64" lengthAdjust="spacingAndGlyphs" fill="#1c1a1b">1</text>
<text x="470.41" y="547.30" font-size="8.8" text-anchor="start" textLength="11.35" lengthAdjust="spacingAndGlyphs" fill="#1c1a1b">2.5</text>
<text x="495.52" y="547.30" font-size="8.8" text-anchor="start" textLength="4.93" lengthAdjust="spacingAndGlyphs" fill="#1c1a1b">5</text>
<line x1="400.25" y1="543.90" x2="400.25" y2="550.40" stroke="#1c1a1b" stroke-width="1.0"/>
<line x1="509.20" y1="543.90" x2="509.20" y2="550.40" stroke="#1c1a1b" stroke-width="1.0"/>
<line x1="400.25" y1="549.90" x2="509.20" y2="549.90" stroke="#1c1a1b" stroke-width="1.0"/>
<text x="427.75" y="560.30" font-size="8.8" text-anchor="start" textLength="53.22" lengthAdjust="spacingAndGlyphs" fill="#1c1a1b">RDEA119 [µM]</text>
<text x="0" y="0" font-size="9.8" textLength="105.05" lengthAdjust="spacingAndGlyphs" fill="#1c1a1b" transform="translate(349.57,525.55) rotate(-90)">Staining index [% of Co]</text>
<text x="395.38" y="406.10" font-size="10.0" text-anchor="start" textLength="24.73" lengthAdjust="spacingAndGlyphs" fill="#1c1a1b">ROSA</text>
<text x="420.25" y="402.90" font-size="7.4" text-anchor="start" textLength="22.70" lengthAdjust="spacingAndGlyphs" fill="#1c1a1b">KIT WT</text>
<text x="444.67" y="406.10" font-size="10.0" text-anchor="start" textLength="49.37" lengthAdjust="spacingAndGlyphs" fill="#1c1a1b">KRAS G12V</text>
<text x="82.93" y="231.40" font-size="10.0" text-anchor="start" textLength="37.75" lengthAdjust="spacingAndGlyphs" fill="#1c1a1b">HMC-1.2</text>
<text x="0" y="0" font-size="9.8" textLength="62.66" lengthAdjust="spacingAndGlyphs" fill="#1c1a1b" transform="translate(15.87,345.35) rotate(-90)">Staining index</text>
<line x1="43.90" y1="237.30" x2="43.90" y2="391.50" stroke="#1c1a1b" stroke-width="1.5"/>
<line x1="40.40" y1="390.80" x2="43.90" y2="390.80" stroke="#1c1a1b" stroke-width="1.0"/>
<text x="37.10" y="393.96" font-size="9.2" text-anchor="end" textLength="4.40" lengthAdjust="spacingAndGlyphs" fill="#1c1a1b">0</text>
<line x1="40.40" y1="365.70" x2="43.90" y2="365.70" stroke="#1c1a1b" stroke-width="1.0"/>
<text x="37.10" y="368.86" font-size="9.2" text-anchor="end" textLength="8.80" lengthAdjust="spacingAndGlyphs" fill="#1c1a1b">50</text>
<line x1="40.40" y1="340.60" x2="43.90" y2="340.60" stroke="#1c1a1b" stroke-width="1.0"/>
<text x="37.10" y="343.76" font-size="9.2" text-anchor="end" textLength="13.20" lengthAdjust="spacingAndGlyphs" fill="#1c1a1b">100</text>
<line x1="40.40" y1="315.50" x2="43.90" y2="315.50" stroke="#1c1a1b" stroke-width="1.0"/>
<text x="37.10" y="318.66" font-size="9.2" text-anchor="end" textLength="13.20" lengthAdjust="spacingAndGlyphs" fill="#1c1a1b">150</text>
<line x1="40.40" y1="290.40" x2="43.90" y2="290.40" stroke="#1c1a1b" stroke-width="1.0"/>
<text x="37.10" y="293.56" font-size="9.2" text-anchor="end" textLength="13.20" lengthAdjust="spacingAndGlyphs" fill="#1c1a1b">200</text>
<line x1="40.40" y1="265.30" x2="43.90" y2="265.30" stroke="#1c1a1b" stroke-width="1.0"/>
<text x="37.10" y="268.46" font-size="9.2" text-anchor="end" textLength="13.20" lengthAdjust="spacingAndGlyphs" fill="#1c1a1b">250</text>
<line x1="40.40" y1="240.20" x2="43.90" y2="240.20" stroke="#1c1a1b" stroke-width="1.0"/>
<text x="37.10" y="243.36" font-size="9.2" text-anchor="end" textLength="13.20" lengthAdjust="spacingAndGlyphs" fill="#1c1a1b">300</text>
<rect x="51.73" y="277.25" width="21.80" height="113.55" fill="#c5c3ca" stroke="#b4b2ba" stroke-width="0.7"/>
<line x1="62.50" y1="246.20" x2="62.50" y2="277.20" stroke="#1c1a1b" stroke-width="1.15"/>
<line x1="60.70" y1="246.20" x2="64.30" y2="246.20" stroke="#1c1a1b" stroke-width="1.3"/>
<text x="53.31" y="405.00" font-size="9.0" text-anchor="start" textLength="18.10" lengthAdjust="spacingAndGlyphs" fill="#1c1a1b">nativ</text>
<rect x="89.17" y="269.85" width="21.80" height="120.95" fill="#8a80b9" stroke="#7c72ab" stroke-width="0.7"/>
<line x1="100.50" y1="248.50" x2="100.50" y2="269.80" stroke="#1c1a1b" stroke-width="1.15"/>
<line x1="98.70" y1="248.50" x2="102.30" y2="248.50" stroke="#1c1a1b" stroke-width="1.3"/>
<text x="94.81" y="405.00" font-size="9.0" text-anchor="start" textLength="10.46" lengthAdjust="spacingAndGlyphs" fill="#1c1a1b">Co</text>
<text x="88.12" y="415.40" font-size="9.0" text-anchor="start" textLength="23.72" lengthAdjust="spacingAndGlyphs" fill="#1c1a1b">shRNA</text>
<rect x="126.62" y="299.55" width="21.80" height="91.25" fill="#4e5467" stroke="#40465a" stroke-width="0.7"/>
<line x1="137.50" y1="292.60" x2="137.50" y2="299.50" stroke="#1c1a1b" stroke-width="1.15"/>
<line x1="135.70" y1="292.60" x2="139.30" y2="292.60" stroke="#1c1a1b" stroke-width="1.3"/>
<text x="126.81" y="405.00" font-size="9.0" text-anchor="start" textLength="21.40" lengthAdjust="spacingAndGlyphs" fill="#1c1a1b">STAT5</text>
<text x="125.57" y="415.40" font-size="9.0" text-anchor="start" textLength="23.72" lengthAdjust="spacingAndGlyphs" fill="#1c1a1b">shRNA</text>
<line x1="43.10" y1="390.80" x2="160.00" y2="390.80" stroke="#1c1a1b" stroke-width="1.45"/>
<line x1="43.90" y1="390.80" x2="43.90" y2="394.00" stroke="#1c1a1b" stroke-width="1.0"/>
<line x1="81.35" y1="390.80" x2="81.35" y2="394.00" stroke="#1c1a1b" stroke-width="1.0"/>
<line x1="118.80" y1="390.80" x2="118.80" y2="394.00" stroke="#1c1a1b" stroke-width="1.0"/>
<line x1="156.25" y1="390.80" x2="156.25" y2="394.00" stroke="#1c1a1b" stroke-width="1.0"/>
<text x="239.78" y="230.70" font-size="10.0" text-anchor="start" textLength="24.73" lengthAdjust="spacingAndGlyphs" fill="#1c1a1b">ROSA</text>
<text x="264.65" y="227.50" font-size="7.4" text-anchor="start" textLength="22.70" lengthAdjust="spacingAndGlyphs" fill="#1c1a1b">KIT WT</text>
<text x="0" y="0" font-size="9.8" textLength="62.96" lengthAdjust="spacingAndGlyphs" fill="#1c1a1b" transform="translate(177.67,345.66) rotate(-90)">Staining index</text>
<line x1="205.60" y1="237.30" x2="205.60" y2="391.60" stroke="#1c1a1b" stroke-width="1.5"/>
<line x1="202.10" y1="391.20" x2="205.60" y2="391.20" stroke="#1c1a1b" stroke-width="1.0"/>
<text x="199.30" y="394.36" font-size="9.2" text-anchor="end" textLength="4.40" lengthAdjust="spacingAndGlyphs" fill="#1c1a1b">0</text>
<line x1="202.10" y1="377.60" x2="205.60" y2="377.60" stroke="#1c1a1b" stroke-width="1.0"/>
<text x="199.30" y="380.76" font-size="9.2" text-anchor="end" textLength="8.80" lengthAdjust="spacingAndGlyphs" fill="#1c1a1b">10</text>
<line x1="202.10" y1="362.40" x2="205.60" y2="362.40" stroke="#1c1a1b" stroke-width="1.0"/>
<text x="199.30" y="365.56" font-size="9.2" text-anchor="end" textLength="8.80" lengthAdjust="spacingAndGlyphs" fill="#1c1a1b">20</text>
<line x1="202.10" y1="347.20" x2="205.60" y2="347.20" stroke="#1c1a1b" stroke-width="1.0"/>
<text x="199.30" y="350.36" font-size="9.2" text-anchor="end" textLength="8.80" lengthAdjust="spacingAndGlyphs" fill="#1c1a1b">30</text>
<line x1="202.10" y1="331.90" x2="205.60" y2="331.90" stroke="#1c1a1b" stroke-width="1.0"/>
<text x="199.30" y="335.06" font-size="9.2" text-anchor="end" textLength="8.80" lengthAdjust="spacingAndGlyphs" fill="#1c1a1b">40</text>
<line x1="202.10" y1="316.50" x2="205.60" y2="316.50" stroke="#1c1a1b" stroke-width="1.0"/>
<text x="199.30" y="319.66" font-size="9.2" text-anchor="end" textLength="8.80" lengthAdjust="spacingAndGlyphs" fill="#1c1a1b">50</text>
<line x1="202.10" y1="301.50" x2="205.60" y2="301.50" stroke="#1c1a1b" stroke-width="1.0"/>
<text x="199.30" y="304.66" font-size="9.2" text-anchor="end" textLength="8.80" lengthAdjust="spacingAndGlyphs" fill="#1c1a1b">60</text>
<line x1="202.10" y1="286.20" x2="205.60" y2="286.20" stroke="#1c1a1b" stroke-width="1.0"/>
<text x="199.30" y="289.36" font-size="9.2" text-anchor="end" textLength="8.80" lengthAdjust="spacingAndGlyphs" fill="#1c1a1b">70</text>
<line x1="202.10" y1="271.00" x2="205.60" y2="271.00" stroke="#1c1a1b" stroke-width="1.0"/>
<text x="199.30" y="274.16" font-size="9.2" text-anchor="end" textLength="8.80" lengthAdjust="spacingAndGlyphs" fill="#1c1a1b">80</text>
<line x1="202.10" y1="255.80" x2="205.60" y2="255.80" stroke="#1c1a1b" stroke-width="1.0"/>
<text x="199.30" y="258.96" font-size="9.2" text-anchor="end" textLength="8.80" lengthAdjust="spacingAndGlyphs" fill="#1c1a1b">90</text>
<line x1="202.10" y1="240.20" x2="205.60" y2="240.20" stroke="#1c1a1b" stroke-width="1.0"/>
<text x="199.30" y="243.36" font-size="9.2" text-anchor="end" textLength="13.20" lengthAdjust="spacingAndGlyphs" fill="#1c1a1b">100</text>
<rect x="213.42" y="274.65" width="21.80" height="116.25" fill="#c5c3ca" stroke="#b4b2ba" stroke-width="0.7"/>
<line x1="224.50" y1="262.40" x2="224.50" y2="274.60" stroke="#1c1a1b" stroke-width="1.15"/>
<line x1="222.70" y1="262.40" x2="226.30" y2="262.40" stroke="#1c1a1b" stroke-width="1.3"/>
<text x="215.01" y="405.10" font-size="9.0" text-anchor="start" textLength="18.10" lengthAdjust="spacingAndGlyphs" fill="#1c1a1b">nativ</text>
<rect x="250.87" y="276.55" width="21.80" height="114.35" fill="#8a80b9" stroke="#7c72ab" stroke-width="0.7"/>
<line x1="261.50" y1="256.10" x2="261.50" y2="276.50" stroke="#1c1a1b" stroke-width="1.15"/>
<line x1="259.70" y1="256.10" x2="263.30" y2="256.10" stroke="#1c1a1b" stroke-width="1.3"/>
<text x="256.51" y="405.10" font-size="9.0" text-anchor="start" textLength="10.46" lengthAdjust="spacingAndGlyphs" fill="#1c1a1b">Co</text>
<text x="249.82" y="415.50" font-size="9.0" text-anchor="start" textLength="23.72" lengthAdjust="spacingAndGlyphs" fill="#1c1a1b">shRNA</text>
<rect x="288.33" y="317.75" width="21.80" height="73.15" fill="#4e5467" stroke="#40465a" stroke-width="0.7"/>
<line x1="299.50" y1="307.20" x2="299.50" y2="317.70" stroke="#1c1a1b" stroke-width="1.15"/>
<line x1="297.70" y1="307.20" x2="301.30" y2="307.20" stroke="#1c1a1b" stroke-width="1.3"/>
<circle cx="299.23" cy="302.00" r="1.1" fill="#1c1a1b"/>
<text x="288.51" y="405.10" font-size="9.0" text-anchor="start" textLength="21.40" lengthAdjust="spacingAndGlyphs" fill="#1c1a1b">STAT5</text>
<text x="287.27" y="415.50" font-size="9.0" text-anchor="start" textLength="23.72" lengthAdjust="spacingAndGlyphs" fill="#1c1a1b">shRNA</text>
<line x1="204.80" y1="390.90" x2="321.00" y2="390.90" stroke="#1c1a1b" stroke-width="1.45"/>
<line x1="205.60" y1="390.90" x2="205.60" y2="394.10" stroke="#1c1a1b" stroke-width="1.0"/>
<line x1="243.05" y1="390.90" x2="243.05" y2="394.10" stroke="#1c1a1b" stroke-width="1.0"/>
<line x1="280.50" y1="390.90" x2="280.50" y2="394.10" stroke="#1c1a1b" stroke-width="1.0"/>
<line x1="317.95" y1="390.90" x2="317.95" y2="394.10" stroke="#1c1a1b" stroke-width="1.0"/>
<text x="82.62" y="447.10" font-size="10.0" text-anchor="start" textLength="38.06" lengthAdjust="spacingAndGlyphs" fill="#1c1a1b">HMC-1.2</text>
<text x="0" y="0" font-size="9.8" textLength="62.16" lengthAdjust="spacingAndGlyphs" fill="#1c1a1b" transform="translate(15.87,558.85) rotate(-90)">Staining index</text>
<line x1="43.80" y1="453.00" x2="43.80" y2="603.00" stroke="#1c1a1b" stroke-width="1.5"/>
<line x1="40.30" y1="602.30" x2="43.80" y2="602.30" stroke="#1c1a1b" stroke-width="1.0"/>
<text x="37.10" y="605.46" font-size="9.2" text-anchor="end" textLength="4.40" lengthAdjust="spacingAndGlyphs" fill="#1c1a1b">0</text>
<line x1="40.30" y1="573.04" x2="43.80" y2="573.04" stroke="#1c1a1b" stroke-width="1.0"/>
<text x="37.10" y="576.20" font-size="9.2" text-anchor="end" textLength="8.80" lengthAdjust="spacingAndGlyphs" fill="#1c1a1b">50</text>
<line x1="40.30" y1="543.78" x2="43.80" y2="543.78" stroke="#1c1a1b" stroke-width="1.0"/>
<text x="37.10" y="546.94" font-size="9.2" text-anchor="end" textLength="13.20" lengthAdjust="spacingAndGlyphs" fill="#1c1a1b">100</text>
<line x1="40.30" y1="514.52" x2="43.80" y2="514.52" stroke="#1c1a1b" stroke-width="1.0"/>
<text x="37.10" y="517.68" font-size="9.2" text-anchor="end" textLength="13.20" lengthAdjust="spacingAndGlyphs" fill="#1c1a1b">150</text>
<line x1="40.30" y1="485.26" x2="43.80" y2="485.26" stroke="#1c1a1b" stroke-width="1.0"/>
<text x="37.10" y="488.42" font-size="9.2" text-anchor="end" textLength="13.20" lengthAdjust="spacingAndGlyphs" fill="#1c1a1b">200</text>
<line x1="40.30" y1="456.00" x2="43.80" y2="456.00" stroke="#1c1a1b" stroke-width="1.0"/>
<text x="37.10" y="459.16" font-size="9.2" text-anchor="end" textLength="13.20" lengthAdjust="spacingAndGlyphs" fill="#1c1a1b">250</text>
<rect x="51.62" y="529.75" width="21.80" height="72.55" fill="#c5c3ca" stroke="#b4b2ba" stroke-width="0.7"/>
<line x1="62.50" y1="519.80" x2="62.50" y2="529.70" stroke="#1c1a1b" stroke-width="1.15"/>
<line x1="60.70" y1="519.80" x2="64.30" y2="519.80" stroke="#1c1a1b" stroke-width="1.3"/>
<text x="50.76" y="616.50" font-size="9.0" text-anchor="start" textLength="23.18" lengthAdjust="spacingAndGlyphs" fill="#1c1a1b">empty</text>
<rect x="89.07" y="498.35" width="21.80" height="103.95" fill="#2d4a7f" stroke="#22396a" stroke-width="0.7"/>
<line x1="99.50" y1="489.80" x2="99.50" y2="498.30" stroke="#1c1a1b" stroke-width="1.15"/>
<line x1="97.70" y1="489.80" x2="101.30" y2="489.80" stroke="#1c1a1b" stroke-width="1.3"/>
<circle cx="99.97" cy="485.50" r="1.1" fill="#1c1a1b"/>
<text x="89.16" y="616.50" font-size="9.0" text-anchor="start" textLength="21.61" lengthAdjust="spacingAndGlyphs" fill="#1c1a1b">STAT5</text>
<text x="94.19" y="626.90" font-size="9.0" text-anchor="start" textLength="11.71" lengthAdjust="spacingAndGlyphs" fill="#1c1a1b">WT</text>
<rect x="126.53" y="474.45" width="21.80" height="127.85" fill="#4e5467" stroke="#40465a" stroke-width="0.7"/>
<line x1="137.50" y1="466.30" x2="137.50" y2="474.40" stroke="#1c1a1b" stroke-width="1.15"/>
<line x1="135.70" y1="466.30" x2="139.30" y2="466.30" stroke="#1c1a1b" stroke-width="1.3"/>
<circle cx="137.43" cy="461.70" r="1.1" fill="#1c1a1b"/>
<text x="126.61" y="616.50" font-size="9.0" text-anchor="start" textLength="21.61" lengthAdjust="spacingAndGlyphs" fill="#1c1a1b">STAT5</text>
<text x="126.39" y="626.90" font-size="9.0" text-anchor="start" textLength="22.04" lengthAdjust="spacingAndGlyphs" fill="#1c1a1b">S710F</text>
<line x1="43.00" y1="602.30" x2="160.00" y2="602.30" stroke="#1c1a1b" stroke-width="1.45"/>
<line x1="43.80" y1="602.30" x2="43.80" y2="605.50" stroke="#1c1a1b" stroke-width="1.0"/>
<line x1="81.25" y1="602.30" x2="81.25" y2="605.50" stroke="#1c1a1b" stroke-width="1.0"/>
<line x1="118.70" y1="602.30" x2="118.70" y2="605.50" stroke="#1c1a1b" stroke-width="1.0"/>
<line x1="156.15" y1="602.30" x2="156.15" y2="605.50" stroke="#1c1a1b" stroke-width="1.0"/>
<text x="239.78" y="446.30" font-size="10.0" text-anchor="start" textLength="24.73" lengthAdjust="spacingAndGlyphs" fill="#1c1a1b">ROSA</text>
<text x="264.65" y="443.10" font-size="7.4" text-anchor="start" textLength="22.70" lengthAdjust="spacingAndGlyphs" fill="#1c1a1b">KIT WT</text>
<text x="0" y="0" font-size="9.8" textLength="62.16" lengthAdjust="spacingAndGlyphs" fill="#1c1a1b" transform="translate(183.37,558.85) rotate(-90)">Staining index</text>
<line x1="205.80" y1="452.60" x2="205.80" y2="603.40" stroke="#1c1a1b" stroke-width="1.5"/>
<line x1="202.30" y1="602.60" x2="205.80" y2="602.60" stroke="#1c1a1b" stroke-width="1.0"/>
<text x="199.30" y="605.76" font-size="9.2" text-anchor="end" textLength="4.40" lengthAdjust="spacingAndGlyphs" fill="#1c1a1b">0</text>
<line x1="202.30" y1="590.50" x2="205.80" y2="590.50" stroke="#1c1a1b" stroke-width="1.0"/>
<text x="199.30" y="593.66" font-size="9.2" text-anchor="end" textLength="4.40" lengthAdjust="spacingAndGlyphs" fill="#1c1a1b">5</text>
<line x1="202.30" y1="575.50" x2="205.80" y2="575.50" stroke="#1c1a1b" stroke-width="1.0"/>
<text x="199.30" y="578.66" font-size="9.2" text-anchor="end" textLength="8.80" lengthAdjust="spacingAndGlyphs" fill="#1c1a1b">10</text>
<line x1="202.30" y1="560.70" x2="205.80" y2="560.70" stroke="#1c1a1b" stroke-width="1.0"/>
<text x="199.30" y="563.86" font-size="9.2" text-anchor="end" textLength="8.80" lengthAdjust="spacingAndGlyphs" fill="#1c1a1b">15</text>
<line x1="202.30" y1="545.50" x2="205.80" y2="545.50" stroke="#1c1a1b" stroke-width="1.0"/>
<text x="199.30" y="548.66" font-size="9.2" text-anchor="end" textLength="8.80" lengthAdjust="spacingAndGlyphs" fill="#1c1a1b">20</text>
<line x1="202.30" y1="530.80" x2="205.80" y2="530.80" stroke="#1c1a1b" stroke-width="1.0"/>
<text x="199.30" y="533.96" font-size="9.2" text-anchor="end" textLength="8.80" lengthAdjust="spacingAndGlyphs" fill="#1c1a1b">25</text>
<line x1="202.30" y1="515.80" x2="205.80" y2="515.80" stroke="#1c1a1b" stroke-width="1.0"/>
<text x="199.30" y="518.96" font-size="9.2" text-anchor="end" textLength="8.80" lengthAdjust="spacingAndGlyphs" fill="#1c1a1b">30</text>
<line x1="202.30" y1="500.70" x2="205.80" y2="500.70" stroke="#1c1a1b" stroke-width="1.0"/>
<text x="199.30" y="503.86" font-size="9.2" text-anchor="end" textLength="8.80" lengthAdjust="spacingAndGlyphs" fill="#1c1a1b">35</text>
<line x1="202.30" y1="485.80" x2="205.80" y2="485.80" stroke="#1c1a1b" stroke-width="1.0"/>
<text x="199.30" y="488.96" font-size="9.2" text-anchor="end" textLength="8.80" lengthAdjust="spacingAndGlyphs" fill="#1c1a1b">40</text>
<line x1="202.30" y1="470.80" x2="205.80" y2="470.80" stroke="#1c1a1b" stroke-width="1.0"/>
<text x="199.30" y="473.96" font-size="9.2" text-anchor="end" textLength="8.80" lengthAdjust="spacingAndGlyphs" fill="#1c1a1b">45</text>
<line x1="202.30" y1="455.70" x2="205.80" y2="455.70" stroke="#1c1a1b" stroke-width="1.0"/>
<text x="199.30" y="458.86" font-size="9.2" text-anchor="end" textLength="8.80" lengthAdjust="spacingAndGlyphs" fill="#1c1a1b">50</text>
<rect x="213.62" y="537.85" width="21.80" height="64.85" fill="#c5c3ca" stroke="#b4b2ba" stroke-width="0.7"/>
<line x1="224.50" y1="531.40" x2="224.50" y2="537.80" stroke="#1c1a1b" stroke-width="1.15"/>
<line x1="222.70" y1="531.40" x2="226.30" y2="531.40" stroke="#1c1a1b" stroke-width="1.3"/>
<text x="212.76" y="616.90" font-size="9.0" text-anchor="start" textLength="23.18" lengthAdjust="spacingAndGlyphs" fill="#1c1a1b">empty</text>
<rect x="251.08" y="519.15" width="21.80" height="83.55" fill="#2d4a7f" stroke="#22396a" stroke-width="0.7"/>
<line x1="261.50" y1="513.70" x2="261.50" y2="519.10" stroke="#1c1a1b" stroke-width="1.15"/>
<line x1="259.70" y1="513.70" x2="263.30" y2="513.70" stroke="#1c1a1b" stroke-width="1.3"/>
<circle cx="261.98" cy="509.30" r="1.1" fill="#1c1a1b"/>
<text x="251.16" y="616.90" font-size="9.0" text-anchor="start" textLength="21.61" lengthAdjust="spacingAndGlyphs" fill="#1c1a1b">STAT5</text>
<text x="256.19" y="627.30" font-size="9.0" text-anchor="start" textLength="11.71" lengthAdjust="spacingAndGlyphs" fill="#1c1a1b">WT</text>
<rect x="288.53" y="492.25" width="21.80" height="110.45" fill="#4e5467" stroke="#40465a" stroke-width="0.7"/>
<line x1="299.50" y1="482.00" x2="299.50" y2="492.20" stroke="#1c1a1b" stroke-width="1.15"/>
<line x1="297.70" y1="482.00" x2="301.30" y2="482.00" stroke="#1c1a1b" stroke-width="1.3"/>
<circle cx="299.43" cy="477.90" r="1.1" fill="#1c1a1b"/>
<text x="288.61" y="616.90" font-size="9.0" text-anchor="start" textLength="21.61" lengthAdjust="spacingAndGlyphs" fill="#1c1a1b">STAT5</text>
<text x="288.39" y="627.30" font-size="9.0" text-anchor="start" textLength="22.04" lengthAdjust="spacingAndGlyphs" fill="#1c1a1b">S710F</text>
<line x1="205.00" y1="602.70" x2="321.00" y2="602.70" stroke="#1c1a1b" stroke-width="1.45"/>
<line x1="205.80" y1="602.70" x2="205.80" y2="605.90" stroke="#1c1a1b" stroke-width="1.0"/>
<line x1="243.25" y1="602.70" x2="243.25" y2="605.90" stroke="#1c1a1b" stroke-width="1.0"/>
<line x1="280.70" y1="602.70" x2="280.70" y2="605.90" stroke="#1c1a1b" stroke-width="1.0"/>
<line x1="318.15" y1="602.70" x2="318.15" y2="605.90" stroke="#1c1a1b" stroke-width="1.0"/>
<rect x="0.00" y="0.00" width="520.00" height="1.60" fill="#4a4a4a"/>
<rect x="0.00" y="0.00" width="1.50" height="637.00" fill="#111111"/>
<rect x="518.40" y="0.00" width="1.60" height="637.00" fill="#1a1a1a"/>
<rect x="0.00" y="635.50" width="520.00" height="1.50" fill="#111111"/>
</svg>
</body></html>
